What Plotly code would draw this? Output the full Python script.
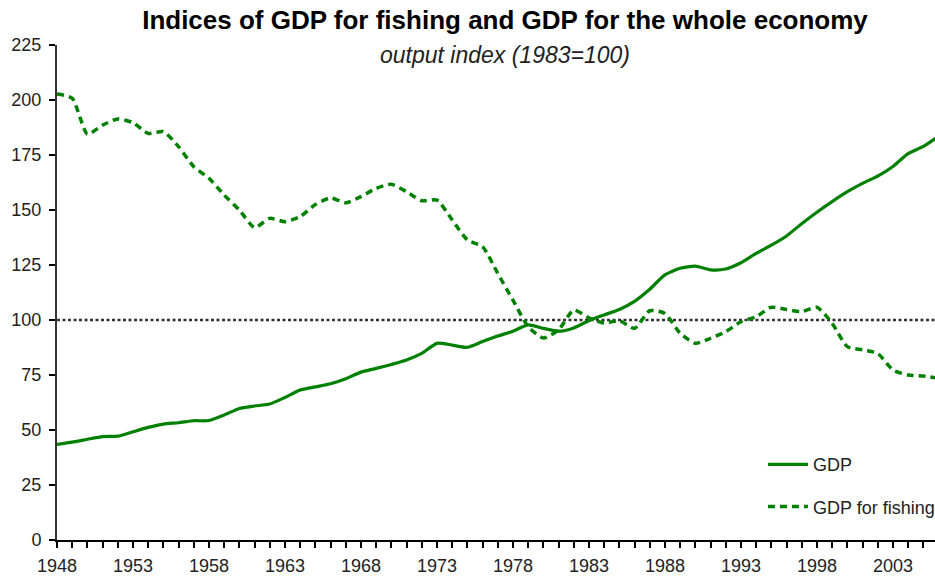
import plotly.graph_objects as go

years = list(range(1948, 2007))

gdp = [43.5, 44.5, 45.8, 47.0, 47.2, 49.2, 51.2, 52.7, 53.3, 54.2,
       54.3, 56.8, 59.8, 60.9, 61.8, 64.8, 68.2, 69.6, 71.0, 73.3,
       76.3, 78.0, 79.8, 81.8, 84.8, 89.4, 88.6, 87.6, 90.2, 92.7,
       94.9, 97.8, 96.2, 94.9, 96.4, 99.7, 102.3, 104.8, 108.5, 114.0,
       120.5, 123.5, 124.5, 122.8, 123.2, 126.0, 130.3, 134.0, 138.2, 143.8,
       149.0, 153.8, 158.3, 162.1, 165.4, 169.8, 175.6, 178.9, 183.5]

fishing = [202.7, 200.8, 184.5, 188.6, 191.4, 189.7, 184.8, 185.6, 178.8, 169.7,
           164.4, 156.8, 150.0, 142.0, 146.2, 144.7, 147.0, 152.5, 155.5, 153.3,
           156.1, 159.8, 161.7, 158.3, 154.2, 154.5, 145.5, 136.4, 133.3, 121.2,
           109.0, 97.0, 91.8, 95.5, 104.5, 101.0, 98.6, 99.7, 96.2, 104.2,
           103.0, 94.0, 89.4, 91.7, 94.7, 99.2, 101.5, 105.8, 104.8, 103.8,
           105.8, 98.5, 87.9, 86.4, 84.8, 77.3, 75.0, 74.5, 73.5]

base_index = 100
series_names = ["GDP", "GDP for fishing"]
title_text = "Indices of GDP for fishing and GDP for the whole economy"
subtitle_text = "output index (1983=100)"

x_range = [1948, 2005.77]
y_ticks = list(range(0, 226, 25))
x_tick_vals = list(range(1948, 2006))
x_tick_text = [str(y) if (y - 1948) % 5 == 0 else "" for y in x_tick_vals]

GREEN = "#008000"
FONT = "Liberation Sans, Arial, sans-serif"

fig = go.Figure()

fig.add_trace(go.Scatter(
    x=years, y=gdp, name=series_names[0], mode="lines",
    line=dict(color=GREEN, width=3.2, shape="spline", smoothing=0.6),
    legend="legend",
))
fig.add_trace(go.Scatter(
    x=years, y=fishing, name=series_names[1], mode="lines",
    line=dict(color=GREEN, width=3.5, dash="7px,5px", shape="spline", smoothing=0.6),
    legend="legend2",
))

fig.add_hline(y=base_index, line=dict(color="#333333", width=2.5, dash="3px,2.5px"),
              layer="below")

fig.update_layout(
    width=935, height=578,
    margin=dict(l=57, r=0, t=45, b=38, autoexpand=False),
    paper_bgcolor="white", plot_bgcolor="white",
    font=dict(family=FONT, size=17, color="black"),
    title=dict(text="<b>" + title_text + "</b>", x=505 / 935, xanchor="center",
               y=1 - 20 / 578, yanchor="middle", yref="container",
               font=dict(family=FONT, size=26, color="black")),
    showlegend=True,
    legend=dict(x=0.816, y=0.228, xref="container", yref="container",
                xanchor="left", yanchor="top",
                bgcolor="rgba(0,0,0,0)", borderwidth=0,
                font=dict(family=FONT, size=18, color="#222222"),
                itemwidth=40),
    legend2=dict(x=0.816, y=0.155, xref="container", yref="container",
                 xanchor="left", yanchor="top",
                 bgcolor="rgba(0,0,0,0)", borderwidth=0,
                 font=dict(family=FONT, size=18, color="#222222"),
                 itemwidth=40),
    annotations=[dict(text="<i>" + subtitle_text + "</i>", xref="paper", yref="paper",
                      x=(505 - 57) / 878, y=(540 - 55) / 495, xanchor="center",
                      yanchor="middle", showarrow=False,
                      font=dict(family=FONT, size=23, color="#222222"))],
)

fig.update_xaxes(
    range=x_range, tickmode="array", tickvals=x_tick_vals, ticktext=x_tick_text,
    ticks="outside", ticklen=6, tickwidth=1.5, tickcolor="black",
    showline=True, linecolor="black", linewidth=1.5,
    showgrid=False, zeroline=False, ticklabelstandoff=3, automargin=False,
    tickfont=dict(family=FONT, size=18, color="#222222"),
)
fig.update_yaxes(
    range=[0, 225], tickmode="array", tickvals=y_ticks,
    ticks="outside", ticklen=6, tickwidth=1.5, tickcolor="black",
    showline=True, linecolor="#333333", linewidth=2,
    showgrid=False, zeroline=False, ticklabelstandoff=4, automargin=False,
    tickfont=dict(family=FONT, size=18, color="#222222"),
)

fig.write_html("out.html", config={"displayModeBar": False},
               post_script="document.body.style.margin='0';document.body.style.overflow='hidden';")
